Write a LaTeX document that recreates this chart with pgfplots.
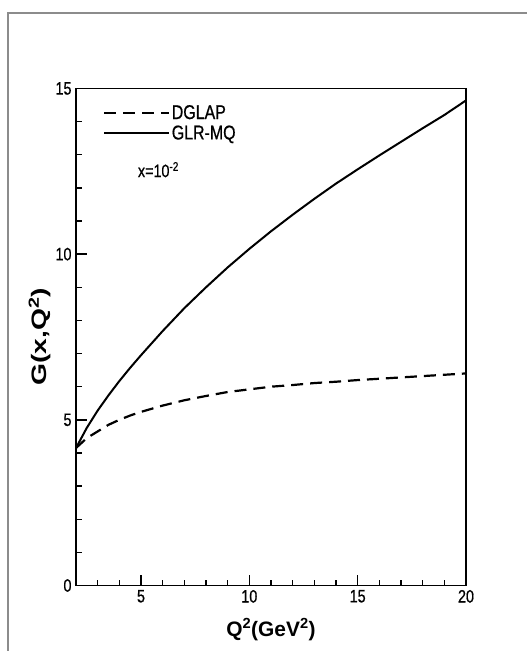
\documentclass[border=0pt]{standalone}
\usepackage{fontspec}
\setmainfont{Liberation Sans}
\newfontfamily\condensed{Liberation Sans}[FakeStretch=0.8, FakeBold=0.7]
\newfontfamily\ylabfont{Liberation Sans}[FakeStretch=1.35]
\usepackage{pgfplots}
\pgfplotsset{compat=1.18}
\definecolor{framegray}{HTML}{8C8C8C}
\begin{document}
\begin{tikzpicture}
\useasboundingbox (-76bp,-65.5bp) rectangle (451bp,585.5bp);
\draw[framegray, line width=1.5bp] (-68bp,-70bp) -- (-68bp,572.5bp) -- (460bp,572.5bp);
\begin{axis}[
  at={(0,0)}, anchor=south west,
  scale only axis, width=390bp, height=497bp,
  xmin=2, xmax=20, ymin=0, ymax=15,
  xtick={5,10,15,20}, ytick={0,5,10,15},
  minor xtick={3,4,6,7,8,9,11,12,13,14,16,17,18,19},
  minor ytick={1,2,3,4,6,7,8,9,11,12,13,14},
  tick align=inside, xtick pos=bottom, ytick pos=left,
  major tick length=11bp, minor tick length=6bp,
  every tick/.style={black, line width=1.6bp},
  minor tick style={line width=1.3bp},
  axis line style={line width=1.8bp},
  /pgf/number format/assume math mode=true,
  ticklabel style={font=\condensed\fontsize{18}{18}\selectfont},
  xticklabel style={yshift=-1bp},
  yticklabel style={xshift=-1bp},
  xlabel={\bfseries\fontsize{21}{21}\selectfont Q\textsuperscript{2}(GeV\textsuperscript{2})},
  ylabel={\ylabfont\bfseries\fontsize{21}{21}\selectfont G(x,Q\textsuperscript{2})},
  xlabel style={yshift=-9bp},
  ylabel style={yshift=-2bp},
  legend style={draw=none, fill=none, at={(axis description cs:0.069,0.97)}, anchor=north west,
    font=\condensed\fontsize{20}{20}\selectfont, inner sep=0pt, row sep=2bp,
    nodes={inner sep=1.5bp}},
  legend cell align=left,
  legend image code/.code={\draw[#1] (0bp,0bp) -- (65bp,0bp);},
]
\addplot[black, line width=2.2bp, dash pattern=on 12bp off 7bp] coordinates {
(2,4.15) (2.5,4.45) (3,4.65) (3.5,4.85) (4,5.0) (4.5,5.13) (5,5.24) (6,5.43) (7,5.59) (8,5.72) (9,5.84) (10,5.92) (11,6.0) (12,6.05) (13,6.11) (14,6.15) (15,6.2) (16,6.24) (17,6.28) (18,6.32) (19,6.36) (20,6.4)
};
\addlegendentry{DGLAP}
\addplot[black, line width=2bp] coordinates {
(2,4.15) (2.5,4.76) (3,5.28) (3.5,5.74) (4,6.17) (4.5,6.57) (5,6.95) (6,7.68) (7,8.37) (8,9.0) (9,9.6) (10,10.16) (11,10.69) (12,11.19) (13,11.67) (14,12.13) (15,12.56) (16,12.98) (17,13.39) (18,13.8) (19,14.2) (20,14.64)
};
\addlegendentry{GLR-MQ}
\node[anchor=west, inner sep=0pt, font=\condensed\fontsize{18}{18}\selectfont] at (axis cs:4.85,12.55) {x=10\textsuperscript{-2}};
\end{axis}
\end{tikzpicture}
\end{document}
